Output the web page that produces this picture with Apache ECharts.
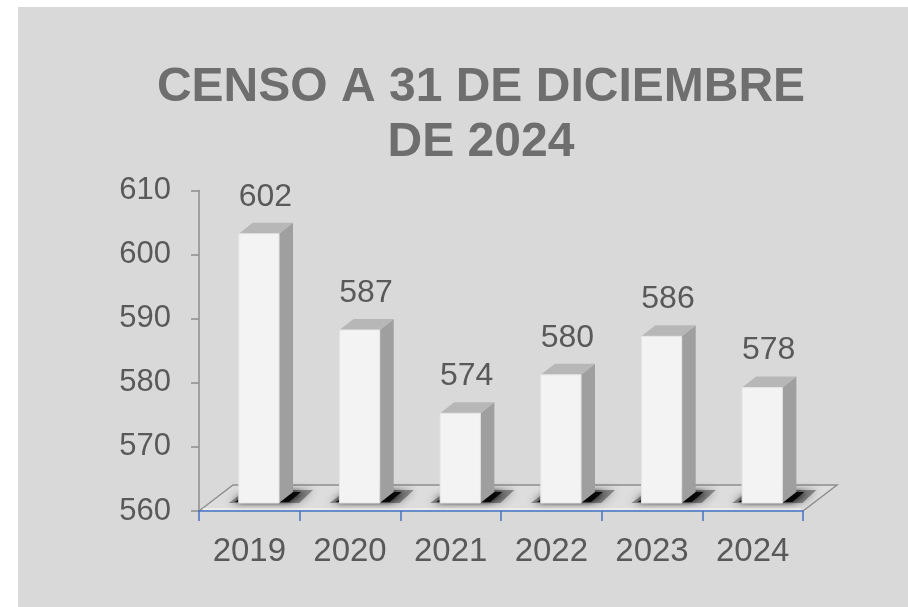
<!DOCTYPE html>
<html>
<head>
<meta charset="utf-8">
<script src="https://cdn.jsdelivr.net/npm/echarts@6/dist/echarts.min.js"></script>
<style>
  html, body { margin: 0; padding: 0; background: #ffffff; }
  #main { width: 908px; height: 607px; }
</style>
</head>
<body>
<div id="main"></div>
<script>
var years = ['2019', '2020', '2021', '2022', '2023', '2024'];
var censo = [602, 587, 574, 580, 586, 578];
var yTicks = [560, 570, 580, 590, 600, 610];

var chart = echarts.init(document.getElementById('main'), null, { renderer: 'canvas' });

// profundidad del efecto 3D
var DX = 34, DY = -26;      // suelo
var BDX = 14, BDY = -11;    // caras de la barra

function renderFloor(params, api) {
  var cs = params.coordSys;
  var x0 = cs.x, x1 = cs.x + cs.width, y = cs.y + cs.height;
  return {
    type: 'group',
    children: [
      {
        type: 'polygon',
        shape: { points: [[x0, y], [x1, y], [x1 + DX, y + DY], [x0 + DX, y + DY]] },
        style: { fill: '#dddddd', stroke: null }
      },
      {
        type: 'polyline',
        shape: { points: [[x0, y], [x0 + DX, y + DY], [x1 + DX, y + DY], [x1, y]] },
        style: { stroke: '#8f8f8f', lineWidth: 1.5, fill: null }
      },
      {
        type: 'line',
        shape: { x1: x0 + 4, y1: y - 2, x2: x1 - 2, y2: y - 2 },
        style: { stroke: '#ececec', lineWidth: 2 }
      }
    ]
  };
}

function renderBar(params, api) {
  var idx = api.value(0);
  var top = api.coord([idx, api.value(1)]);
  var base = api.coord([idx, yTicks[0]]);
  var band = api.size([1, 0])[0];
  var cx = top[0];
  var xl = cx - band * 0.105, xr = cx + band * 0.295;
  var yb = base[1] - 8, yt = top[1] - 8;
  return {
    type: 'group',
    children: [
      {
        type: 'polygon',
        shape: { points: [[xl - 10, yb], [xr + 20, yb], [xr + BDX + 20, yb + BDY - 2], [xl + BDX - 6, yb + BDY - 2]] },
        style: { fill: 'rgba(0,0,0,0.35)', shadowBlur: 8, shadowColor: 'rgba(0,0,0,0.9)' }
      },
      {
        type: 'polygon',
        shape: { points: [[xl - 4, yb - 1], [xr + 10, yb - 1], [xr + BDX + 8, yb + BDY], [xl + BDX - 2, yb + BDY]] },
        style: { fill: 'rgba(0,0,0,0.85)', shadowBlur: 6, shadowColor: 'rgba(0,0,0,1)' }
      },
      {
        type: 'polygon',
        shape: { points: [[xr, yt], [xr + BDX, yt + BDY], [xr + BDX, yb + BDY], [xr, yb]] },
        style: { fill: '#9f9f9f' }
      },
      {
        type: 'polygon',
        shape: { points: [[xl, yt], [xr, yt], [xr + BDX, yt + BDY], [xl + BDX, yt + BDY]] },
        style: { fill: '#b7b7b7' }
      },
      {
        type: 'rect',
        shape: { x: xl, y: yt, width: xr - xl, height: yb - yt },
        style: { fill: '#f3f3f3', stroke: '#e4e4e4', lineWidth: 1 }
      },
      {
        type: 'text',
        style: {
          text: String(api.value(1)),
          x: cx + 16, y: top[1] - 45,
          textAlign: 'center', textVerticalAlign: 'middle',
          font: '32px "Liberation Sans", Arial, sans-serif',
          fill: '#595959'
        }
      }
    ]
  };
}

var option = {
  animation: false,
  backgroundColor: '#ffffff',
  graphic: [
    {
      type: 'rect', z: -10,
      shape: { x: 18, y: 7, width: 890, height: 600 },
      style: { fill: '#d9d9d9' }
    },
    {
      type: 'text', z: 10,
      style: {
        text: 'CENSO A 31 DE DICIEMBRE\nDE 2024',
        x: 481, y: 60,
        textAlign: 'center', textVerticalAlign: 'top',
        font: 'bold 48px "Liberation Sans", Arial, sans-serif',
        lineHeight: 55,
        fill: '#6e6e6e'
      }
    }
  ],
  grid: { left: 199, top: 190.5, width: 604, height: 320.5 },
  xAxis: {
    type: 'category',
    data: years,
    z: 5,
    axisLine: { lineStyle: { color: '#4472c4', width: 1.5 } },
    axisTick: { show: true, length: 10, lineStyle: { color: '#4472c4', width: 1.5 } },
    axisLabel: {
      fontSize: 33, color: '#595959', margin: 24,
      fontFamily: '"Liberation Sans", Arial, sans-serif'
    }
  },
  yAxis: {
    type: 'value',
    min: yTicks[0], max: yTicks[yTicks.length - 1], interval: 10,
    axisLine: { show: true, lineStyle: { color: '#8c8c8c', width: 1.5 } },
    axisTick: { show: true, length: 8, lineStyle: { color: '#8c8c8c', width: 1.5 } },
    splitLine: { show: false },
    axisLabel: {
      fontSize: 31, color: '#595959', margin: 28,
      fontFamily: '"Liberation Sans", Arial, sans-serif'
    }
  },
  series: [
    {
      type: 'custom', z: 1, clip: false,
      renderItem: renderFloor,
      data: [[0, yTicks[0]]],
      silent: true
    },
    {
      type: 'custom', z: 3, clip: false,
      renderItem: renderBar,
      data: censo.map(function (v, i) { return [i, v]; })
    }
  ]
};

chart.setOption(option);
</script>
</body>
</html>
